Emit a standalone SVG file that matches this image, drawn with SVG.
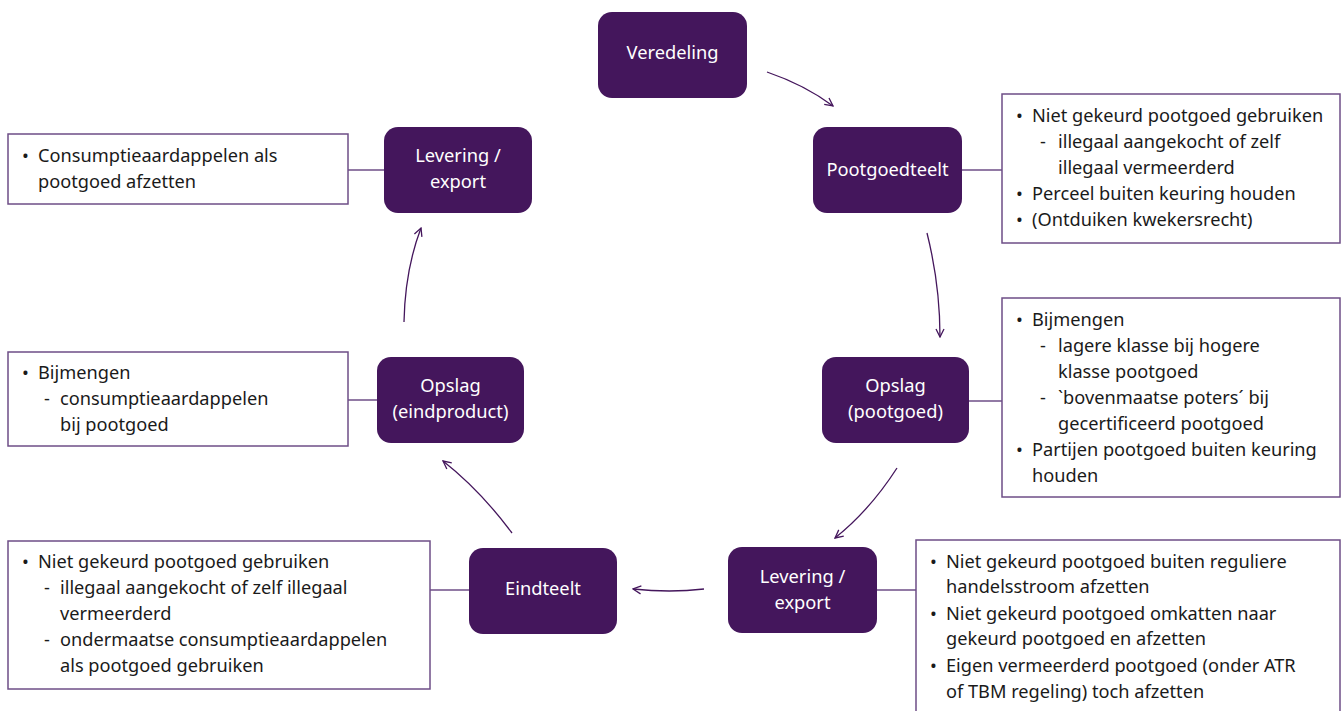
<svg xmlns="http://www.w3.org/2000/svg" width="1343" height="711" viewBox="0 0 1343 711">
<defs>
<style>
.node rect{fill:#44165c}
.node text{fill:#ffffff;font-family:"Noto Sans","Open Sans",sans-serif;font-size:18.3px;text-anchor:middle}
.box rect{fill:#ffffff;stroke:#6e4e87;stroke-width:1.5}
.box text{fill:#1a1a1a;font-family:"Noto Sans","Open Sans",sans-serif;font-size:18.2px}
.link{fill:none;stroke:#6e4e87;stroke-width:1.5}
.arrow{fill:none;stroke:#44165c;stroke-width:1.3;marker-end:url(#ah)}
</style>
<marker id="ah" viewBox="0 0 10 10" refX="9" refY="5" markerWidth="10" markerHeight="10" markerUnits="userSpaceOnUse" orient="auto">
<path d="M1,1 L9,5 L1,9" fill="none" stroke="#44165c" stroke-width="1.3"/>
</marker>
</defs>
<rect width="1343" height="711" fill="#ffffff"/>

<g id="connectors">
<path class="link" d="M962,170 H1002"/>
<path class="link" d="M969,401 H1002"/>
<path class="link" d="M877,590 H916"/>
<path class="link" d="M430,590 H469"/>
<path class="link" d="M348,400 H377"/>
<path class="link" d="M348,170 H384"/>
<path class="arrow" d="M767,72 Q805,85 833,106"/>
<path class="arrow" d="M927,233 Q940,285 940,337"/>
<path class="arrow" d="M897,468 Q870,510 835,538"/>
<path class="arrow" d="M704,589 Q670,593 633,589"/>
<path class="arrow" d="M512,533 Q480,490 443,461"/>
<path class="arrow" d="M404,322 Q405,270 421,228"/>
</g>

<g id="n-veredeling" class="node">
<rect x="598" y="12" width="149" height="86" rx="14"/>
<text x="672.5" y="59">Veredeling</text>
</g>
<g id="n-pootgoedteelt" class="node">
<rect x="813" y="127" width="149" height="86" rx="14"/>
<text x="887.5" y="176">Pootgoedteelt</text>
</g>
<g id="n-opslag-pootgoed" class="node">
<rect x="822" y="357" width="147" height="86" rx="14"/>
<text x="895.5" y="392">Opslag</text>
<text x="895.5" y="418">(pootgoed)</text>
</g>
<g id="n-levering-2" class="node">
<rect x="728" y="547" width="149" height="86" rx="14"/>
<text x="802.5" y="583">Levering /</text>
<text x="802.5" y="609">export</text>
</g>
<g id="n-eindteelt" class="node">
<rect x="469" y="548" width="148" height="86" rx="14"/>
<text x="543" y="595">Eindteelt</text>
</g>
<g id="n-opslag-eind" class="node">
<rect x="377" y="357" width="147" height="86" rx="14"/>
<text x="450.5" y="392">Opslag</text>
<text x="450.5" y="418">(eindproduct)</text>
</g>
<g id="n-levering-1" class="node">
<rect x="384" y="127" width="148" height="86" rx="14"/>
<text x="458" y="162">Levering /</text>
<text x="458" y="188">export</text>
</g>

<g id="b-pootgoedteelt" class="box">
<rect x="1002" y="94" width="338" height="149"/>
<text x="1016" y="122">•</text><text x="1032" y="122">Niet gekeurd pootgoed gebruiken</text>
<text x="1040" y="148">-</text><text x="1058" y="148">illegaal aangekocht of zelf</text>
<text x="1058" y="174">illegaal vermeerderd</text>
<text x="1016" y="200">•</text><text x="1032" y="200">Perceel buiten keuring houden</text>
<text x="1016" y="226">•</text><text x="1032" y="226">(Ontduiken kwekersrecht)</text>
</g>
<g id="b-opslag-pootgoed" class="box">
<rect x="1002" y="298" width="338" height="199"/>
<text x="1016" y="326">•</text><text x="1032" y="326">Bijmengen</text>
<text x="1040" y="352">-</text><text x="1058" y="352">lagere klasse bij hogere</text>
<text x="1058" y="378">klasse pootgoed</text>
<text x="1040" y="404">-</text><text x="1058" y="404">`bovenmaatse poters´ bij</text>
<text x="1058" y="430">gecertificeerd pootgoed</text>
<text x="1016" y="456">•</text><text x="1032" y="456">Partijen pootgoed buiten keuring</text>
<text x="1032" y="482">houden</text>
</g>
<g id="b-levering-2" class="box">
<rect x="916" y="540" width="424" height="180"/>
<text x="930" y="568">•</text><text x="946" y="568">Niet gekeurd pootgoed buiten reguliere</text>
<text x="946" y="593">handelsstroom afzetten</text>
<text x="930" y="620">•</text><text x="946" y="620">Niet gekeurd pootgoed omkatten naar</text>
<text x="946" y="645">gekeurd pootgoed en afzetten</text>
<text x="930" y="672">•</text><text x="946" y="672">Eigen vermeerderd pootgoed (onder ATR</text>
<text x="946" y="698">of TBM regeling) toch afzetten</text>
</g>
<g id="b-eindteelt" class="box">
<rect x="8" y="541" width="422" height="148"/>
<text x="22" y="568">•</text><text x="38" y="568">Niet gekeurd pootgoed gebruiken</text>
<text x="44" y="594">-</text><text x="60" y="594">illegaal aangekocht of zelf illegaal</text>
<text x="60" y="620">vermeerderd</text>
<text x="44" y="646">-</text><text x="60" y="646">ondermaatse consumptieaardappelen</text>
<text x="60" y="672">als pootgoed gebruiken</text>
</g>
<g id="b-opslag-eind" class="box">
<rect x="8" y="352" width="340" height="94"/>
<text x="22" y="379">•</text><text x="38" y="379">Bijmengen</text>
<text x="44" y="405">-</text><text x="60" y="405">consumptieaardappelen</text>
<text x="60" y="431">bij pootgoed</text>
</g>
<g id="b-levering-1" class="box">
<rect x="8" y="134" width="340" height="70"/>
<text x="22" y="162">•</text><text x="38" y="162">Consumptieaardappelen als</text>
<text x="38" y="188">pootgoed afzetten</text>
</g>
</svg>
